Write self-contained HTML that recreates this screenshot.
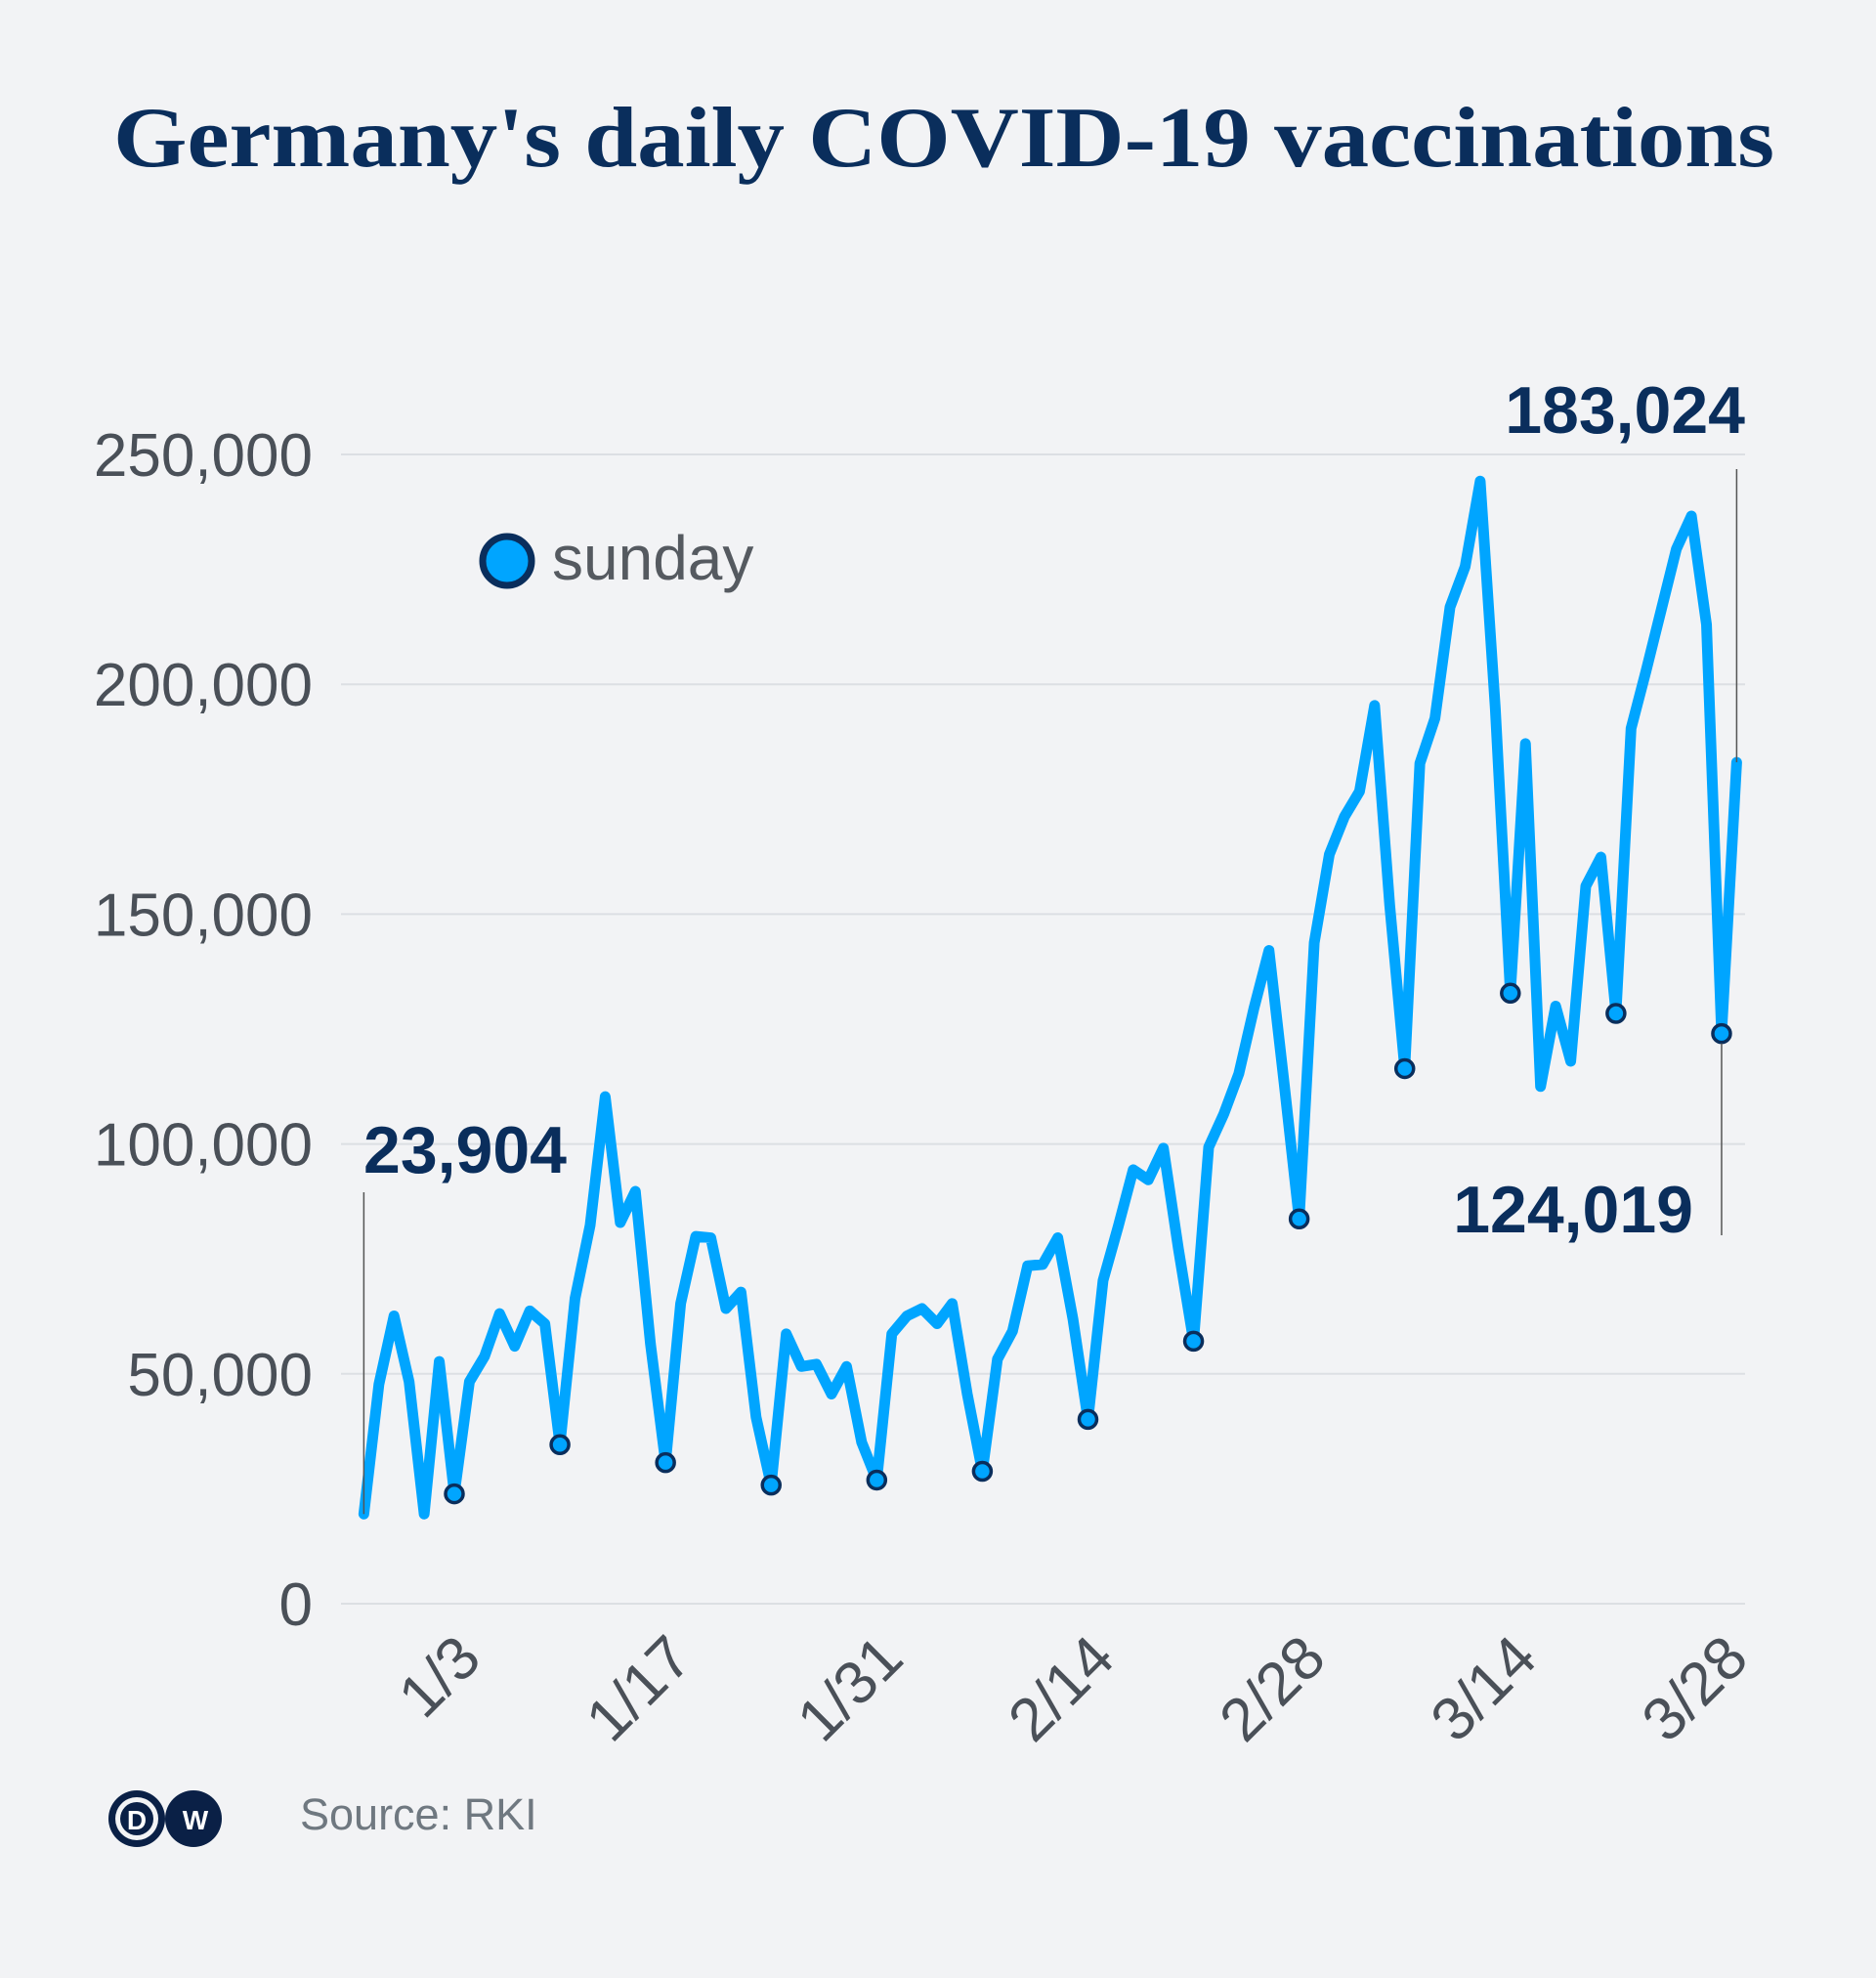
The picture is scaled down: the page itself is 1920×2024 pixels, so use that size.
<!DOCTYPE html>
<html><head><meta charset="utf-8"><style>
html,body{margin:0;padding:0;background:#f2f3f5;}
svg{display:block;}
</style></head><body>
<svg id="chart" width="1920" height="2024" viewBox="0 0 1920 2024" xmlns="http://www.w3.org/2000/svg">
<rect width="1920" height="2024" fill="#f2f3f5"/>
<text x="966" y="170" text-anchor="middle" font-family="Liberation Serif, serif" font-weight="bold" font-size="88" fill="#0a2e5c" textLength="1700" lengthAdjust="spacingAndGlyphs">Germany's daily COVID-19 vaccinations</text>
<g id="grid"></g>
<g id="yticks"></g>
<g id="xticks"></g>
<g id="line"></g>
<g id="markers"></g>
<g>
<circle cx="519" cy="574" r="25" fill="#00a5ff" stroke="#0a2e5c" stroke-width="7"/>
<text x="565" y="593" font-family="Liberation Sans, sans-serif" font-size="64" fill="#555a60">sunday</text>
</g>
<g id="annotations"></g>
<g>
<circle cx="140" cy="1861" r="29" fill="#0a2046"/>
<circle cx="198" cy="1861" r="29" fill="#0a2046"/>
<circle cx="140" cy="1861" r="22" fill="#f2f3f5"/>
<circle cx="140" cy="1861" r="17" fill="#0a2046"/>
<text x="140" y="1872" text-anchor="middle" font-family="Liberation Sans, sans-serif" font-weight="bold" font-size="28" fill="#fff">D</text>
<text x="200" y="1872" text-anchor="middle" font-family="Liberation Sans, sans-serif" font-weight="bold" font-size="28" fill="#fff">W</text>
</g>
<text x="307" y="1872" font-family="Liberation Sans, sans-serif" font-size="45" fill="#6f7880">Source: RKI</text>
</svg>
<script>
const values = [19.5,47.7,62.6,48.3,19.5,52.7,23.9,48.3,53.8,63.1,56,63.7,60.9,34.6,66.4,82.3,110.3,82.9,89.7,56.5,30.7,65.3,79.9,79.6,64.2,67.8,40.6,25.8,58.7,51.6,52.1,45.6,51.6,35.1,26.9,58.7,62.6,64.2,60.9,65.3,45.6,28.8,53.2,59.3,73.5,73.8,79.6,62,40.1,70.3,82,94.4,92.2,99.1,77.1,57.1,99.3,106.5,115.3,129.5,142.1,113.3,83.7,143.8,163,171.2,176.7,195.4,152,116.4,182.8,192.6,216.8,225.6,244.2,194.8,132.8,187.1,112.5,130,118,156.1,162.4,128.4,190.4,203,216.2,229.4,236.6,213,124.019,183.024];
const startDay = -6; // days relative to 1/3 (first point is 12/28)
const yTicks = [0,50000,100000,150000,200000,250000];
const yTickLabels = ["0","50,000","100,000","150,000","200,000","250,000"];
const xTickDays = [0,14,28,42,56,70,84];
const xTickLabels = ["1/3","1/17","1/31","2/14","2/28","3/14","3/28"];
const NS="http://www.w3.org/2000/svg";
const X0=465, PX=15.44; // x of 1/3
function x(day){return X0+day*PX;}
function y(v){return 1641-v/250000*(1641-465);}
function mk(tag,attrs,parent,txt){const e=document.createElementNS(NS,tag);for(const k in attrs)e.setAttribute(k,attrs[k]);if(txt!==undefined)e.textContent=txt;document.getElementById(parent).appendChild(e);return e;}
yTicks.forEach((t,i)=>{
 const g=mk('line',{x1:349,x2:1786,y1:y(t),y2:y(t),stroke:'#dcdfe3','stroke-width':2},'grid');
 
 
 const l=mk('text',{x:320,y:y(t)+22,'text-anchor':'end','font-family':'Liberation Sans, sans-serif','font-size':62,fill:'#4a5058'},'yticks',yTickLabels[i]);
 
 
});
xTickDays.forEach((d,i)=>{
 const tx=x(d)+30, ty=1700;
 const l=mk('text',{x:tx,y:ty,'text-anchor':'end','font-family':'Liberation Sans, sans-serif','font-size':62,fill:'#4a5058',transform:`rotate(-45 ${tx} ${ty})`},'xticks',xTickLabels[i]);
 
 
});
const pts=values.map((v,i)=>[x(startDay+i),y(v*1000)]);
const p=mk('polyline',{points:pts.map(q=>q.join(',')).join(' '),fill:'none',stroke:'#00a5ff','stroke-width':11,'stroke-linejoin':'round','stroke-linecap':'round'},'line');


values.forEach((v,i)=>{
 const d=startDay+i;
 if(((d%7)+7)%7===0){
  const c=mk('circle',{cx:x(d),cy:y(v*1000),r:9,fill:'#00a5ff',stroke:'#0a2e5c','stroke-width':3.5},'markers');
  
  
 }
});
function annot(name,txt,tx,ty,anchor,lx,ly1,ly2){
 const l=mk('line',{x1:lx,x2:lx,y1:ly1,y2:ly2,stroke:'#555',"stroke-width":1.5},'annotations');
 
 
 const t=mk('text',{x:tx,y:ty,'text-anchor':anchor,'font-family':'Liberation Sans, sans-serif','font-weight':'bold','font-size':68,fill:'#0a2e5c'},'annotations',txt);
 
 
}
const last=values.length-1;
annot('annotation-last','183,024',1786,443,'end',x(startDay+last),480,y(values[last]*1000));
annot('annotation-sunday','124,019',1733,1261,'end',x(startDay+last-1),y(values[last-1]*1000)+10,1264);
annot('annotation-first','23,904',372,1200,'start',x(startDay),1220,y(values[0]*1000));
</script>
</body></html>
